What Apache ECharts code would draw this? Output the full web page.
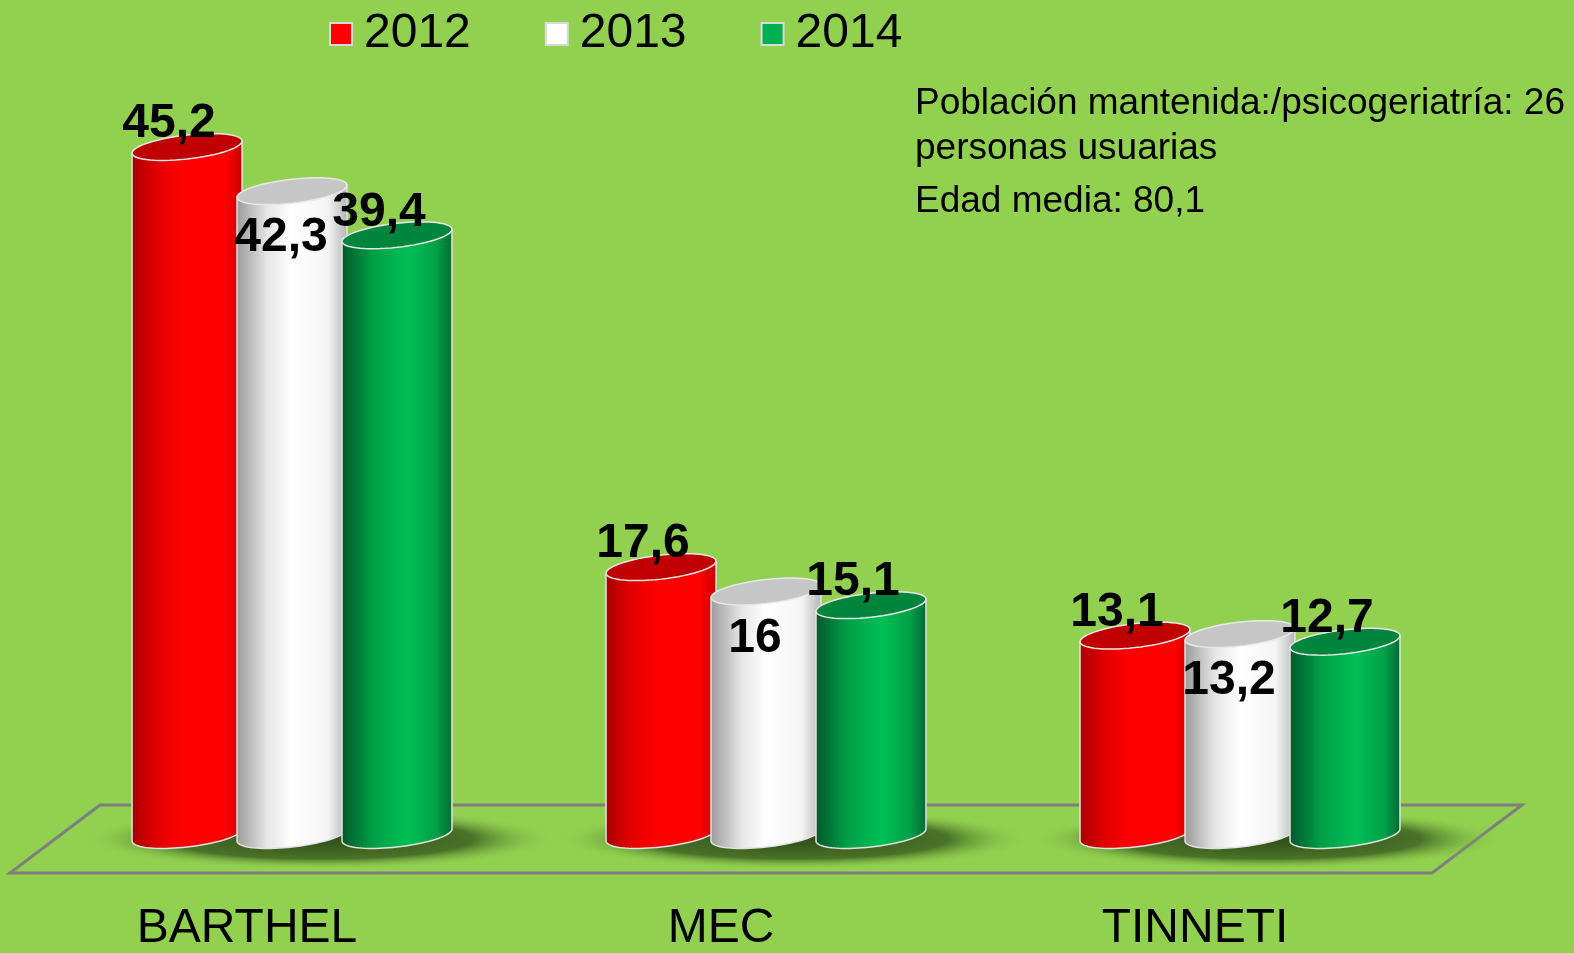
<!DOCTYPE html>
<html>
<head>
<meta charset="utf-8">
<script src="https://cdn.jsdelivr.net/npm/echarts@6/dist/echarts.min.js"></script>
<style>html,body{margin:0;padding:0;background:#92D050;}#c{width:1574px;height:953px;}</style>
</head>
<body>
<div id="c"></div>
<script>
const categories = ['BARTHEL', 'MEC', 'TINNETI'];
const years = ['2012', '2013', '2014'];
const values2012 = [45.2, 17.6, 13.1];
const values2013 = [42.3, 16, 13.2];
const values2014 = [39.4, 15.1, 12.7];
const noteLines = ['Población mantenida:/psicogeriatría: 26', 'personas usuarias', 'Edad media: 80,1'];

const seriesValues = [values2012, values2013, values2014];
const legendColors = ['#FF0000', '#FFFFFF', '#00B050'];
const bodyStops = [
  [[0,'#A80000'],[0.22,'#E00000'],[0.45,'#FF0000'],[0.85,'#FF0000'],[1,'#C40000']],
  [[0,'#9A9A9A'],[0.28,'#E6E6E6'],[0.5,'#FFFFFF'],[0.82,'#F4F4F4'],[1,'#B4B4B4']],
  [[0,'#00582A'],[0.28,'#009E47'],[0.6,'#00C055'],[0.85,'#00A048'],[1,'#006A33']]
];
const topColors = ['#C00000', '#C6C6C6', '#00853D'];
const labelInside = [false, true, false];
const FONT = '"Liberation Sans", Arial, sans-serif';

function ellPts(cx, cy, rx, ry, k, t0, t1, n) {
  const pts = [];
  for (let i = 0; i <= n; i++) {
    const t = t0 + (t1 - t0) * i / n;
    pts.push([cx + rx * Math.cos(t), cy + ry * Math.sin(t) - k * rx * Math.cos(t)]);
  }
  return pts;
}

function makeRender(si) {
  return function (params, api) {
    const cat = api.value(0), v = api.value(1);
    const top = api.coord([cat, v]);
    const base = api.coord([cat, 0]);
    const cw = api.size([1, 0])[0];
    const cx = top[0] + (si - 1) * cw * 0.2215;
    const rx = cw * 0.232 / 2, ry = 12, k = 0.11;
    const bodyPts = [[cx + rx, top[1] - k * rx], [cx - rx, top[1] + k * rx]]
      .concat(ellPts(cx, base[1], rx, ry, k, Math.PI, 0, 40));
    const topPts = ellPts(cx, top[1], rx, ry, k, 0, Math.PI * 2, 60);
    const txt = String(v).replace('.', ',');
    const lx = labelInside[si] ? cx - 11 : cx - 18;
    const ly = labelInside[si] ? top[1] + 47 : top[1] - 23;
    return {
      type: 'group',
      children: [
        { type: 'polygon', shape: { points: bodyPts },
          style: { fill: { type: 'linear', x: 0, y: 0, x2: 1, y2: 0, colorStops: bodyStops[si].map(s => ({ offset: s[0], color: s[1] })) },
                   stroke: '#E2E2E2', lineWidth: 1.5 } },
        { type: 'polygon', shape: { points: topPts }, style: { fill: topColors[si], stroke: '#E8E8E8', lineWidth: 1.5 } },
        { type: 'text', z2: 10, style: { text: txt, x: lx, y: ly, align: 'center', verticalAlign: 'middle', font: 'bold 48px ' + FONT, fill: '#000' } }
      ]
    };
  };
}

function shadowRender(params, api) {
  const base = api.coord([api.value(0), 0]);
  const cw = api.size([1, 0])[0];
  return {
    type: 'circle',
    x: base[0] + cw * 0.06, y: base[1] + 4,
    scaleY: 0.13,
    shape: { cx: 0, cy: 0, r: 235 },
    style: { fill: { type: 'radial', x: 0.5, y: 0.5, r: 0.5, colorStops: [
      { offset: 0, color: 'rgba(40,70,20,0.95)' },
      { offset: 0.65, color: 'rgba(55,90,30,0.8)' },
      { offset: 1, color: 'rgba(146,208,80,0)' } ] } },
    silent: true
  };
}

const chart = echarts.init(document.getElementById('c'));
const series = [{
  type: 'custom', name: 'shadow', renderItem: shadowRender, silent: true, z: 1,
  data: categories.map((c, i) => [i])
}].concat(years.map((y, si) => ({
  type: 'custom', name: y, renderItem: makeRender(si), z: 2 + si,
  itemStyle: { color: legendColors[si] },
  data: seriesValues[si].map((v, i) => [i, v])
})));

chart.setOption({
  backgroundColor: '#92D050',
  animation: false,
  grid: { left: 55, right: 97, top: 74, bottom: 108 },
  legend: {
    top: 5, left: 324, itemGap: 74, itemWidth: 22, itemHeight: 22, icon: 'rect',
    data: years.map((y, i) => ({ name: y, itemStyle: { color: legendColors[i], borderColor: '#D9D9D9', borderWidth: 2 } })),
    textStyle: { fontSize: 48, color: '#000', fontFamily: FONT, padding: [0, 0, 0, 7] }
  },
  xAxis: {
    type: 'category', data: categories,
    axisLine: { show: false }, axisTick: { show: false },
    axisLabel: { fontSize: 48, color: '#000', fontFamily: FONT, margin: 70, padding: [0, 90, 0, 0] }
  },
  yAxis: { type: 'value', min: 0, max: 50, show: false },
  graphic: [
    { type: 'polygon', z: 0, shape: { points: [[100, 805], [1522, 805], [1432, 873], [10, 873]] },
      style: { fill: 'none', stroke: '#7F7F7F', lineWidth: 3 } },
    { type: 'text', left: 915, top: 85, style: { text: noteLines[0], font: '37px ' + FONT, fill: '#000' } },
    { type: 'text', left: 915, top: 130, style: { text: noteLines[1], font: '37px ' + FONT, fill: '#000' } },
    { type: 'text', left: 915, top: 183, style: { text: noteLines[2], font: '37px ' + FONT, fill: '#000' } }
  ],
  series: series
});
</script>
</body>
</html>
